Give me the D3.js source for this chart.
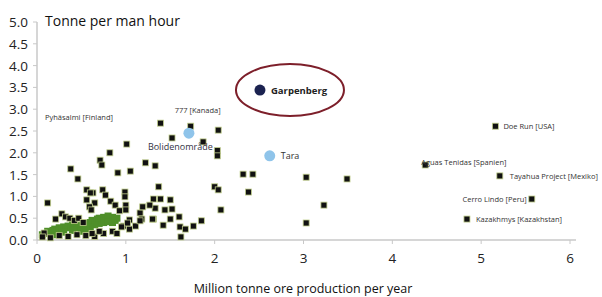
<!DOCTYPE html>
<meta charset="utf-8">
<style>
  body { margin: 0; background: #fff; }
  text { font-family: 'Open Sans', 'Noto Sans', sans-serif; }
  .tick-label { font-size: 13.5px; fill: #222; }
  .mine-label { font-size: 7.5px; fill: #333; }
</style>
<script src="https://d3js.org/d3.v7.min.js"></script>
<div id="chart"></div>
<script>
// axis ticks
var xTicks = [0, 1, 2, 3, 4, 5, 6];
var yTicks = [0, 0.5, 1, 1.5, 2, 2.5, 3, 3.5, 4, 4.5, 5];

// black mines [production Mt/yr, tonne per man hour]
var blackMines = [
  [1.39, 2.68], [1.73, 2.61], [1.52, 2.34], [2.04, 2.52], [1.87, 2.25],
  [2.03, 2.05], [2.03, 1.93], [1.33, 1.70], [1.37, 1.22], [2.00, 1.22],
  [2.04, 1.15], [2.07, 0.69], [1.31, 0.94], [1.39, 0.94], [1.33, 0.73],
  [1.50, 0.92], [1.44, 0.69], [1.52, 0.71], [1.31, 0.48], [1.42, 0.34],
  [1.50, 0.48], [1.60, 0.53], [1.61, 0.30], [1.62, 0.07], [1.67, 0.25],
  [1.76, 0.32], [1.85, 0.44],
  [1.01, 2.20], [0.82, 2.00], [0.71, 1.83], [0.73, 1.72], [0.91, 1.54],
  [1.05, 1.58], [1.22, 1.77], [0.74, 1.15], [0.77, 1.03], [0.63, 1.08],
  [0.65, 0.85], [0.83, 0.89], [0.88, 0.80], [0.99, 1.10], [0.99, 0.99],
  [1.00, 0.80], [1.00, 0.69], [0.93, 0.67], [1.16, 0.62], [1.19, 0.76],
  [1.27, 0.80], [1.04, 0.46], [1.18, 0.48], [1.30, 0.48], [0.97, 0.32],
  [1.04, 0.25], [1.11, 0.32], [1.16, 0.44], [1.02, 0.39],
  [0.38, 1.63], [0.46, 1.40], [0.56, 1.15], [0.60, 1.08],
  [0.12, 0.85], [0.21, 0.48], [0.28, 0.60], [0.32, 0.53], [0.37, 0.50],
  [0.08, 0.16], [0.06, 0.07], [0.56, 0.92], [0.59, 0.76], [0.61, 0.69],
  [0.15, 0.05], [0.25, 0.10], [0.35, 0.08], [0.45, 0.12], [0.55, 0.10],
  [0.65, 0.08], [0.75, 0.15], [0.42, 0.45], [0.47, 0.50], [0.52, 0.40],
  [0.62, 0.15], [0.70, 0.20], [0.85, 0.20], [0.95, 0.30], [0.90, 0.15],
  [2.32, 1.51], [2.43, 1.51], [2.38, 1.10], [3.03, 1.44], [3.49, 1.40],
  [3.23, 0.80], [3.03, 0.39]
];

// dense green group
var greenMines = [
  [0.06, 0.12], [0.10, 0.15], [0.12, 0.20], [0.15, 0.18], [0.18, 0.22],
  [0.20, 0.25], [0.22, 0.20], [0.25, 0.28], [0.28, 0.25], [0.30, 0.30],
  [0.33, 0.28], [0.35, 0.32], [0.38, 0.30], [0.40, 0.35], [0.42, 0.30],
  [0.45, 0.28], [0.48, 0.33], [0.50, 0.30], [0.52, 0.35], [0.55, 0.38],
  [0.58, 0.35], [0.60, 0.40], [0.62, 0.45], [0.65, 0.42], [0.68, 0.48],
  [0.70, 0.50], [0.72, 0.45], [0.75, 0.52], [0.78, 0.50], [0.80, 0.55],
  [0.82, 0.48], [0.85, 0.52], [0.88, 0.45], [0.90, 0.50], [0.70, 0.38],
  [0.75, 0.40], [0.80, 0.42], [0.65, 0.35], [0.85, 0.40], [0.60, 0.30],
  [0.20, 0.12], [0.30, 0.18], [0.40, 0.22], [0.50, 0.20], [0.55, 0.25]
];

// named black mines
var namedMines = ["Doe Run [USA]", "Aguas Tenidas [Spanien]", "Tayahua Project [Mexiko]", "Cerro Lindo [Peru]", "Kazakhmys [Kazakhstan]"];
var namedX = [5.16, 4.37, 5.21, 5.57, 4.84];
var namedY = [2.61, 1.72, 1.47, 0.94, 0.48];

// Boliden mines
var bolidenNames = ["Garpenberg", "Tara", "Bolidenområde"];
var bolidenX = [2.51, 2.62, 1.71];
var bolidenY = [3.44, 1.93, 2.45];

// free labels [text, x, y]
var freeNotes = [["Pyhäsalmi [Finland]", 0.09, 2.75], ["777 [Kanada]", 1.55, 2.91]];

var W = 602, H = 297;
var svg = d3.select("#chart").append("svg")
  .attr("width", W).attr("height", H);

var x = d3.scaleLinear().domain([0, 6]).range([37, 570]);
var y = d3.scaleLinear().domain([0, 5]).range([240, 22]);

// axes lines
svg.append("line")
  .attr("x1", x(0)).attr("x2", x(0))
  .attr("y1", y(5)).attr("y2", y(0))
  .attr("stroke", "#c8c8c8").attr("stroke-width", 1.5);
svg.append("line")
  .attr("x1", x(0)).attr("x2", 576)
  .attr("y1", y(0)).attr("y2", y(0))
  .attr("stroke", "#c8c8c8").attr("stroke-width", 1.5);

// y ticks
svg.append("g").selectAll("line")
  .data(yTicks).enter().append("line")
    .attr("x1", x(0) - 4).attr("x2", x(0))
    .attr("y1", function(d) { return y(d); })
    .attr("y2", function(d) { return y(d); })
    .attr("stroke", "#c8c8c8");
svg.append("g").selectAll("text")
  .data(yTicks).enter().append("text")
    .attr("class", "tick-label")
    .attr("x", 28)
    .attr("y", function(d) { return y(d) + 5; })
    .attr("text-anchor", "end")
    .text(function(d) { return d.toFixed(1); });

// x ticks
svg.append("g").selectAll("line")
  .data(xTicks).enter().append("line")
    .attr("x1", function(d) { return x(d); })
    .attr("x2", function(d) { return x(d); })
    .attr("y1", y(0)).attr("y2", y(0) + 4)
    .attr("stroke", "#c8c8c8");
svg.append("g").selectAll("text")
  .data(xTicks).enter().append("text")
    .attr("class", "tick-label")
    .attr("x", function(d) { return x(d); })
    .attr("y", 263)
    .attr("text-anchor", "middle")
    .text(function(d) { return d; });

// titles
svg.append("text")
  .attr("x", 45).attr("y", 26)
  .style("font-size", "14px").attr("fill", "#111")
  .text("Tonne per man hour");
svg.append("text")
  .attr("x", 303).attr("y", 293)
  .attr("text-anchor", "middle")
  .style("font-size", "12.5px").attr("fill", "#111")
  .text("Million tonne ore production per year");

// green group
svg.append("g").selectAll("rect")
  .data(greenMines).enter().append("rect")
    .attr("x", function(d) { return x(d[0]) - 3.5; })
    .attr("y", function(d) { return y(d[1]) - 3.5; })
    .attr("width", 7).attr("height", 7)
    .attr("fill", "#4f8f2a");

// black mines
svg.append("g").selectAll("rect")
  .data(blackMines).enter().append("rect")
    .attr("x", function(d) { return x(d[0]) - 3; })
    .attr("y", function(d) { return y(d[1]) - 3; })
    .attr("width", 6).attr("height", 6)
    .attr("fill", "#111")
    .attr("stroke", "#c3d08e").attr("stroke-width", 0.8);

// named mines
var named = namedMines.map(function(n, i) { return [n, namedX[i], namedY[i]]; });
svg.append("g").selectAll("rect")
  .data(named).enter().append("rect")
    .attr("x", function(d) { return x(d[1]) - 3; })
    .attr("y", function(d) { return y(d[2]) - 3; })
    .attr("width", 6).attr("height", 6)
    .attr("fill", "#111")
    .attr("stroke", "#c3d08e").attr("stroke-width", 0.8);
var labelPlace = {
  "Doe Run [USA]": [8, "start"],
  "Aguas Tenidas [Spanien]": [-4, "start", -3],
  "Tayahua Project [Mexiko]": [10, "start"],
  "Cerro Lindo [Peru]": [-5, "end"],
  "Kazakhmys [Kazakhstan]": [9, "start"]
};
svg.append("g").selectAll("text")
  .data(named).enter().append("text")
    .attr("class", "mine-label")
    .attr("x", function(d) { return x(d[1]) + labelPlace[d[0]][0]; })
    .attr("y", function(d) { return y(d[2]) + 3 + (labelPlace[d[0]][2] || 0); })
    .attr("text-anchor", function(d) { return labelPlace[d[0]][1]; })
    .text(function(d) { return d[0]; });

svg.append("g").selectAll("text")
  .data(freeNotes).enter().append("text")
    .attr("class", "mine-label")
    .attr("x", function(d) { return x(d[1]); })
    .attr("y", function(d) { return y(d[2]); })
    .text(function(d) { return d[0]; });

// Boliden
var boliden = bolidenNames.map(function(n, i) { return [n, bolidenX[i], bolidenY[i]]; });
svg.append("ellipse")
  .attr("cx", x(boliden[0][1]) + 30).attr("cy", y(boliden[0][2]))
  .attr("rx", 54).attr("ry", 26)
  .attr("fill", "none").attr("stroke", "#7d1f2a").attr("stroke-width", 2);
svg.append("g").selectAll("circle")
  .data(boliden).enter().append("circle")
    .attr("cx", function(d) { return x(d[1]); })
    .attr("cy", function(d) { return y(d[2]); })
    .attr("r", 5.5)
    .attr("fill", function(d, i) { return i == 0 ? "#1b2250" : "#8fc4ea"; });
svg.append("text")
  .attr("x", x(boliden[0][1]) + 11).attr("y", y(boliden[0][2]) + 3.5)
  .style("font-size", "9.5px").style("font-weight", "bold").attr("fill", "#222")
  .text(boliden[0][0]);
svg.append("text")
  .attr("x", x(boliden[1][1]) + 11).attr("y", y(boliden[1][2]) + 3.5)
  .style("font-size", "9px").attr("fill", "#333")
  .text(boliden[1][0]);
svg.append("text")
  .attr("x", x(boliden[2][1]) - 41).attr("y", y(boliden[2][2]) + 17)
  .style("font-size", "9px").attr("fill", "#334")
  .text(boliden[2][0]);
</script>
